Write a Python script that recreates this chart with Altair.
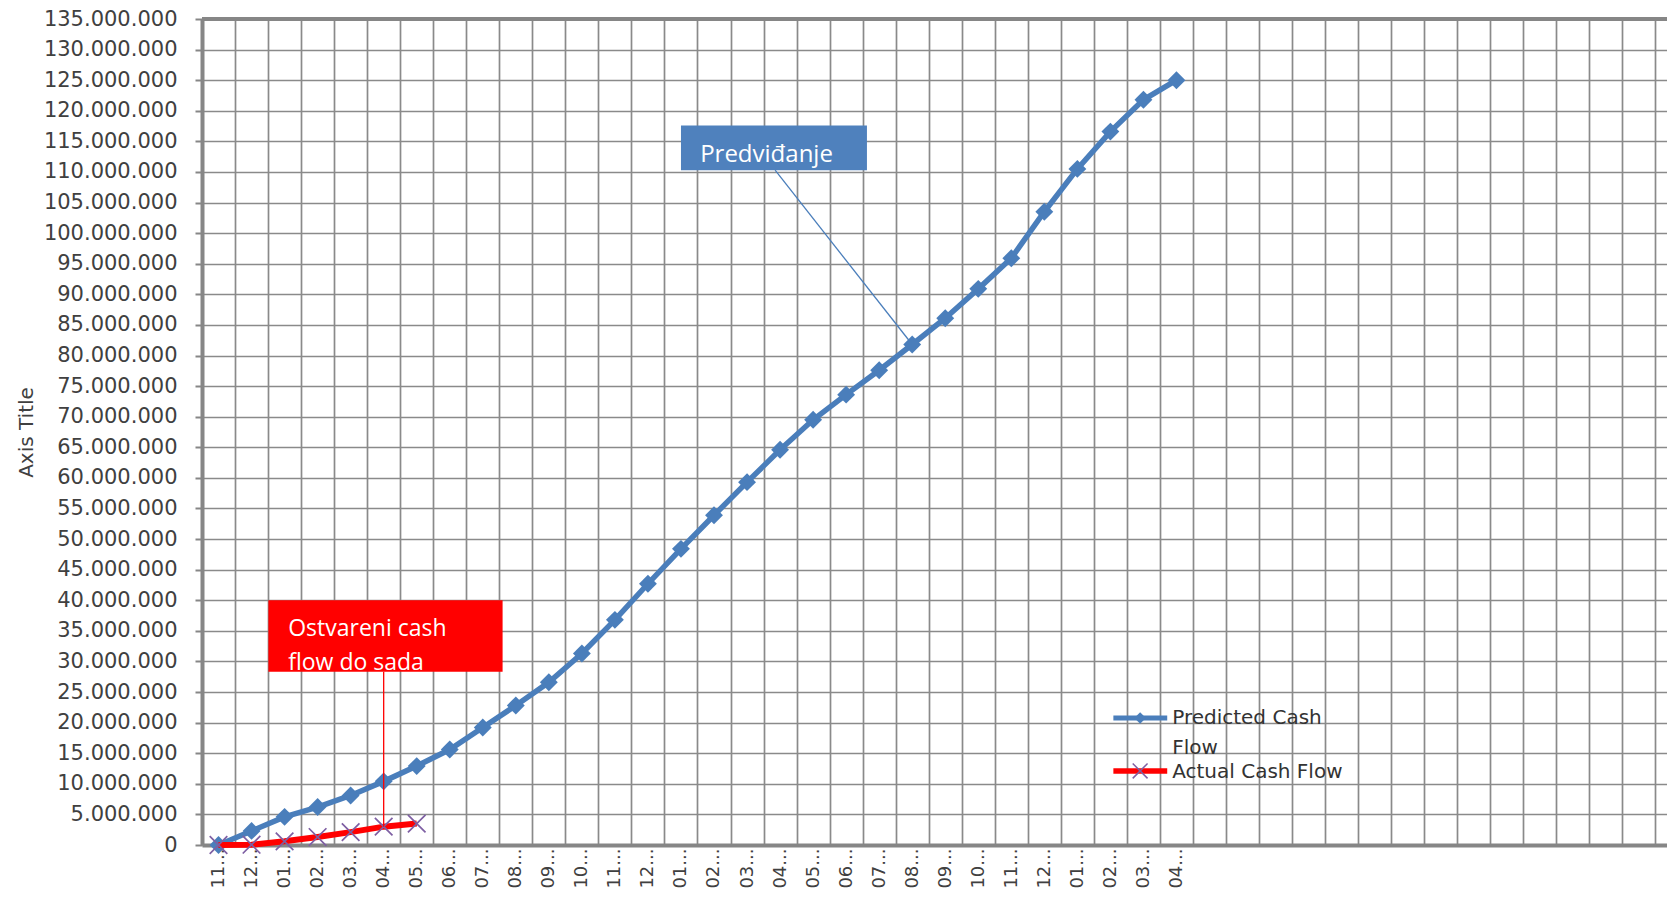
import json
import altair as alt
import pandas as pd

# ---------------- data ----------------
x_labels = ["11...", "12...", "01...", "02...", "03...", "04...", "05...", "06...",
            "07...", "08...", "09...", "10...", "11...", "12...", "01...", "02...",
            "03...", "04...", "05...", "06...", "07...", "08...", "09...", "10...",
            "11...", "12...", "01...", "02...", "03...", "04..."]
predicted_m = [0.0, 2.3, 4.6, 6.2, 8.1, 10.4, 12.9, 15.6, 19.2, 22.8, 26.6, 31.3,
               36.8, 42.7, 48.4, 53.9, 59.3, 64.6, 69.5, 73.6, 77.6, 81.8, 86.1,
               90.9, 95.9, 103.5, 110.5, 116.6, 121.8, 125.0]
actual_m = [0.0, 0.05, 0.6, 1.3, 2.1, 3.0, 3.5]

series_names = ["Predicted Cash Flow", "Actual Cash Flow"]
note_pred = "Predviđanje"
note_actual = ["Ostvareni cash", "flow do sada"]
y_title = "Axis Title"

M = 1_000_000
n_slots = 45  # category slots drawn by the grid (data fills the first 30)
slot_labels = x_labels + [""] * (n_slots - len(x_labels))

pred_df = pd.DataFrame({"x": list(range(len(predicted_m))),
                        "y": [v * M for v in predicted_m]})
act_df = pd.DataFrame({"x": list(range(len(actual_m))),
                       "y": [v * M for v in actual_m]})

BLUE = "#4A7EBB"
BOXBLUE = "#4F81BD"
RED = "#FF0000"
PURPLE = "#7E5FA3"
GRID = "#8A8A8A"
AXIS = "#868686"
TXT = "#404040"

XS = alt.Scale(domain=[-0.5, 43.85], nice=False, zero=False)
YS = alt.Scale(domain=[0, 135 * M], nice=False, zero=True)

grid_vals = [i - 0.5 for i in range(n_slots)]
y_vals = [i * 5 * M for i in range(28)]

x_axis = alt.Axis(
    values=grid_vals, tickCount=500, grid=True, gridColor=GRID, gridWidth=1.7, ticks=False,
    domain=True, domainColor=AXIS, domainWidth=4,
    labelExpr=f"{json.dumps(slot_labels)}[datum.value + 0.5]",
    labelAngle=270, labelFont="DejaVu Sans", labelFontSize=18, labelColor=TXT,
    labelOffset=16.5, labelPadding=3, labelFlush=False, labelOverlap=False,
    labelBound=False, title=None)
y_axis = alt.Axis(
    values=y_vals, tickCount=500, grid=True, gridColor=GRID, gridWidth=1.7,
    ticks=True, tickSize=7, tickColor=AXIS, tickWidth=2,
    domain=True, domainColor=AXIS, domainWidth=4,
    labelExpr="datum.value == 0 ? '0' : format(datum.value / 1000000, 'd') + '.000.000'",
    labelFont="DejaVu Sans", labelFontSize=21, labelColor=TXT, labelPadding=18,
    labelFlush=False, labelOverlap=False,
    title=y_title, titleFont="DejaVu Sans", titleFontSize=20, titleFontWeight="normal",
    titleColor=TXT, titleAngle=270, titleX=-170, titleY=413, titleBaseline="alphabetic")


def X(field="x", axis=alt.Undefined):
    return alt.X(f"{field}:Q", scale=XS, axis=axis)


def Y(field="y", axis=alt.Undefined):
    return alt.Y(f"{field}:Q", scale=YS, axis=axis)


# ---------------- series ----------------
pred_line = alt.Chart(pred_df).mark_line(color=BLUE, strokeWidth=5.5).encode(
    x=X(axis=x_axis), y=Y(axis=y_axis))
pred_pts = alt.Chart(pred_df).mark_point(shape="diamond", filled=True, size=320,
                                         color=BLUE, opacity=1).encode(x=X(), y=Y())

top_border = alt.Chart(pd.DataFrame({"y": [135 * M]})).mark_rule(
    color=AXIS, strokeWidth=4).encode(y=Y())

act_line = alt.Chart(act_df).mark_line(color=RED, strokeWidth=6).encode(x=X(), y=Y())
XSHAPE = "M-1,-1L1,1M-1,1L1,-1"
act_pts = alt.Chart(act_df).mark_point(shape=XSHAPE, filled=False, size=310,
                                       color=PURPLE, strokeWidth=1.7, opacity=1).encode(
    x=X(), y=Y())

# ---------------- annotations ----------------
blue_box = pd.DataFrame({"x": [14.0], "x2": [19.63], "y": [110.3 * M], "y2": [117.6 * M]})
blue_rect = alt.Chart(blue_box).mark_rect(color=BOXBLUE).encode(
    x=X(), x2="x2", y=Y(), y2="y2")
blue_text = alt.Chart(pd.DataFrame({"x": [14.58], "y": [111.7 * M], "t": [note_pred]})).mark_text(
    align="left", baseline="alphabetic", font="Open Sans", fontSize=24, color="white").encode(
    x=X(), y=Y(), text="t:N")
blue_lead = alt.Chart(pd.DataFrame({"x": [16.85], "x2": [21.0], "y": [110.3 * M],
                                    "y2": [predicted_m[21] * M]})).mark_rule(
    color=BLUE, strokeWidth=1.3).encode(x=X(), x2="x2", y=Y(), y2="y2")

red_box = pd.DataFrame({"x": [1.51], "x2": [8.6], "y": [28.3 * M], "y2": [40.0 * M]})
red_rect = alt.Chart(red_box).mark_rect(color=RED).encode(
    x=X(), x2="x2", y=Y(), y2="y2")
red_text = alt.Chart(pd.DataFrame({"x": [2.11, 2.11], "y": [34.1 * M, 28.6 * M],
                                   "t": note_actual})).mark_text(
    align="left", baseline="alphabetic", font="Open Sans", fontSize=23, color="white").encode(
    x=X(), y=Y(), text="t:N")
red_lead = alt.Chart(pd.DataFrame({"x": [5.0], "y": [28.3 * M], "y2": [actual_m[5] * M]})).mark_rule(
    color=RED, strokeWidth=1.3).encode(x=X(), y=Y(), y2="y2")

# ---------------- legend ----------------
leg_rows = pd.DataFrame({"x": [27.09, 27.09], "x2": [28.72, 28.72],
                         "y": [20.76 * M, 12.1 * M], "mx": [27.9, 27.9]})
leg_blue_line = alt.Chart(leg_rows.iloc[[0]]).mark_rule(color=BLUE, strokeWidth=5).encode(
    x=X(), x2="x2", y=Y())
leg_blue_pt = alt.Chart(leg_rows.iloc[[0]]).mark_point(shape="diamond", filled=True, size=130,
                                                      color=BLUE, opacity=1).encode(
    x=X("mx"), y=Y())
leg_red_line = alt.Chart(leg_rows.iloc[[1]]).mark_rule(color=RED, strokeWidth=5.5).encode(
    x=X(), x2="x2", y=Y())
leg_red_pt = alt.Chart(leg_rows.iloc[[1]]).mark_point(shape=XSHAPE, filled=False, size=220,
                                                     color=PURPLE, strokeWidth=1.5, opacity=1).encode(
    x=X("mx"), y=Y())
leg_text_df = pd.DataFrame({"x": [28.87, 28.87, 28.87],
                            "y": [20.76 * M, 15.9 * M, 11.9 * M],
                            "t": ["Predicted Cash", "Flow", series_names[1]]})
leg_text = alt.Chart(leg_text_df).mark_text(
    align="left", baseline="middle", font="DejaVu Sans", fontSize=20, color="#333333").encode(
    x=X(), y=Y(), text="t:N")

chart = alt.layer(
    pred_line, pred_pts, top_border, act_line, act_pts,
    blue_lead, blue_rect, blue_text, red_lead, red_rect, red_text,
    leg_blue_line, leg_blue_pt, leg_red_line, leg_red_pt, leg_text,
).properties(
    width=1465, height=826,
    padding={"left": 194, "top": 11, "right": 0, "bottom": 44},
    autosize=alt.AutoSizeParams(type="none"),
    background="white",
).configure_view(stroke=None)

chart.save("out.html", embed_options={"renderer": "svg", "actions": False})
